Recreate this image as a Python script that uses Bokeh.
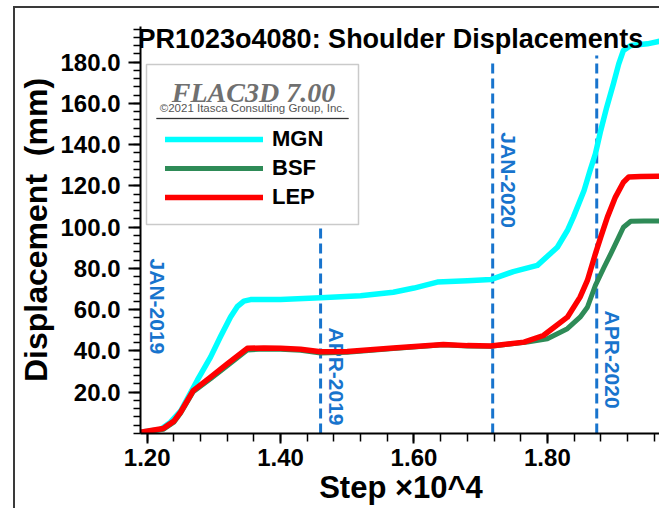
from bokeh.plotting import figure
from bokeh.models import (Range1d, FixedTicker, PrintfTickFormatter, Label, BoxAnnotation,
                          Legend, LegendItem)
from bokeh.embed import file_html
from bokeh.resources import INLINE
from bokeh.core.properties import value
import math

# ---------------- data ----------------
mgn_x = [1.190, 1.220, 1.235, 1.250, 1.275, 1.295, 1.310, 1.325, 1.335, 1.345, 1.355, 1.375,
         1.400, 1.460, 1.520, 1.569, 1.600, 1.635, 1.680, 1.715, 1.749, 1.785, 1.815, 1.830,
         1.839, 1.855, 1.864, 1.872, 1.880, 1.889, 1.899, 1.907, 1.914, 1.925, 1.950, 1.973,
         1.990]
mgn_y = [0.6, 2.0, 5.5, 10.8, 25.7, 37.0, 47.0, 56.5, 61.5, 64.2, 64.9, 65.0,
         65.0, 65.8, 66.8, 68.5, 70.5, 73.4, 74.0, 74.6, 78.5, 81.5, 90.3, 98.4,
         104.9, 117.8, 127.5, 135.6, 146.9, 158.2, 169.5, 179.2, 185.7, 188.1, 188.9, 190.5,
         191.0]

lep_x = [1.190, 1.224, 1.240, 1.250, 1.269, 1.295, 1.320, 1.350, 1.375, 1.400, 1.430, 1.460,
         1.500, 1.569, 1.644, 1.680, 1.715, 1.765, 1.794, 1.830, 1.849, 1.860, 1.872, 1.880,
         1.890, 1.902, 1.914, 1.922, 1.940, 1.973, 1.990]
lep_y = [0.6, 2.4, 6.0, 10.3, 20.8, 27.3, 33.8, 41.3, 41.5, 41.3, 40.8, 39.6,
         39.8, 41.5, 43.2, 42.6, 42.4, 44.3, 47.5, 56.4, 66.1, 74.2, 87.1, 95.2,
         104.9, 114.6, 121.8, 124.3, 124.6, 124.8, 124.9]

bsf_x = [1.190, 1.224, 1.240, 1.250, 1.269, 1.295, 1.320, 1.350, 1.375, 1.400, 1.430, 1.460,
         1.500, 1.569, 1.644, 1.680, 1.715, 1.770, 1.800, 1.830, 1.849, 1.860, 1.872, 1.885,
         1.895, 1.907, 1.914, 1.925, 1.945, 1.973, 1.990]
bsf_y = [0.3, 2.0, 5.5, 9.8, 20.3, 26.5, 32.8, 40.5, 41.0, 40.8, 40.3, 39.0,
         39.4, 41.2, 43.0, 42.4, 42.3, 44.3, 45.9, 50.8, 56.4, 61.2, 71.8, 80.6,
         87.1, 95.2, 100.0, 102.9, 103.0, 103.0, 103.0]

# date markers (dashed vertical lines)
marker_names = ["JAN-2019", "APR-2019", "JAN-2020", "APR-2020"]
marker_x = [1.191, 1.460, 1.718, 1.874]
line_x = [1.460, 1.718, 1.874]
line_top = [99.4, 181.8, 183.3]

x_major = [1.20, 1.40, 1.60, 1.80, 2.00]
x_minor = [1.16, 1.20, 1.24, 1.28, 1.32, 1.36, 1.40, 1.44, 1.48, 1.52, 1.56, 1.60, 1.64,
           1.68, 1.72, 1.76, 1.80, 1.84, 1.88, 1.92, 1.96, 2.00]
y_major = [20, 40, 60, 80, 100, 120, 140, 160, 180]
y_minor = [0, 4, 8, 12, 16, 20, 24, 28, 32, 36, 40, 44, 48, 52, 56, 60, 64, 68, 72, 76, 80,
           84, 88, 92, 96, 100, 104, 108, 112, 116, 120, 124, 128, 132, 136, 140, 144, 148,
           152, 156, 160, 164, 168, 172, 176, 180, 184, 188, 192, 196]

# ---------------- style ----------------
FONT = "Liberation Sans"
BLUE = "#1874CD"
CYAN = "#00FFFF"
GREEN = "#2E8B57"
RED = "#FF0000"

p = figure(width=646, height=502, output_backend="svg", toolbar_location=None, title=None,
           x_range=Range1d(1.19, 1.9711), y_range=Range1d(0, 197.3),
           min_border_left=125, min_border_right=0, min_border_top=18, min_border_bottom=77)
# outer frame of the original picture: thin dark lines at the left and top
p.styles = {"border-left": "2px solid #3a3a3a", "border-top": "2px solid #3a3a3a",
            "margin-left": "13px", "margin-top": "6px"}
p.outline_line_color = None
p.grid.visible = False
p.background_fill_color = "white"
p.border_fill_color = "white"

# axes
xa = p.xaxis[0]
xa.ticker = FixedTicker(ticks=x_major, minor_ticks=x_minor)
xa.formatter = PrintfTickFormatter(format="%.2f")
xa.axis_label = "Step ×10^4"
ya = p.yaxis[0]
ya.ticker = FixedTicker(ticks=y_major, minor_ticks=y_minor)
ya.formatter = PrintfTickFormatter(format="%.1f")
ya.axis_label = "Displacement \u00a0(mm)"

for ax in (xa, ya):
    ax.axis_line_width = 2
    ax.axis_line_color = "black"
    ax.major_tick_line_width = 2
    ax.minor_tick_line_width = 1.5
    ax.major_tick_line_color = "black"
    ax.minor_tick_line_color = "black"
    ax.major_tick_in = 0
    ax.minor_tick_in = 0
    ax.major_label_text_font = FONT
    ax.major_label_text_font_style = "bold"
    ax.major_label_text_font_size = "24px"
    ax.major_label_text_color = "black"
    ax.axis_label_text_font = FONT
    ax.axis_label_text_font_style = "bold"
    ax.axis_label_text_color = "black"

xa.major_tick_out = 10
xa.minor_tick_out = 8
xa.major_label_standoff = 5
xa.axis_label_standoff = 1
xa.axis_label_text_font_size = "31px"

ya.major_tick_out = 12
ya.minor_tick_out = 7
ya.major_label_standoff = 8
ya.axis_label_standoff = 3
ya.axis_label_text_font_size = "32px"

# dashed date lines
p.segment(x0=line_x, y0=[0] * len(line_x), x1=line_x, y1=line_top,
          line_color=BLUE, line_width=3, line_dash="10 5")

lab_y = [84.8, 51.4, 146.0, 59.6]
p.text(x=marker_x, y=lab_y, text=marker_names, angle=-math.pi / 2, x_offset=16,
       text_align="left", text_baseline="middle", text_color=BLUE,
       text_font=value(FONT), text_font_style="bold", text_font_size="21px")

# curves
r_mgn = p.line(mgn_x, mgn_y, line_color=CYAN, line_width=5.5, line_join="round", line_cap="round")
r_bsf = p.line(bsf_x, bsf_y, line_color=GREEN, line_width=5, line_join="round", line_cap="round")
r_lep = p.line(lep_x, lep_y, line_color=RED, line_width=5.5, line_join="round", line_cap="round")

# title (inside the top of the frame, as in the reference)
p.add_layout(Label(x=-3, y=395, x_units="screen", y_units="screen",
                   text="PR1023o4080: Shoulder Displacements", text_font=FONT,
                   text_font_style="bold", text_font_size="27px", text_color="black",
                   text_baseline="alphabetic", text_align="left"))

# legend box with FLAC3D header
p.add_layout(BoxAnnotation(left=6, right=218, bottom=209, top=369,
                           left_units="screen", right_units="screen",
                           bottom_units="screen", top_units="screen",
                           fill_color="white", fill_alpha=1.0,
                           line_color="#505050", line_width=1.5))
p.add_layout(BoxAnnotation(left=16, right=208, bottom=314.5, top=315.5,
                           left_units="screen", right_units="screen",
                           bottom_units="screen", top_units="screen",
                           fill_color="#333333", fill_alpha=1.0,
                           line_color="#333333", line_width=1))
p.add_layout(Label(x=113, y=341, x_units="screen", y_units="screen", text="FLAC3D 7.00",
                   text_font="Liberation Serif", text_font_style="bold italic",
                   text_font_size="28px", text_color="#707070",
                   text_align="center", text_baseline="alphabetic"))
p.add_layout(Label(x=112, y=326, x_units="screen", y_units="screen",
                   text="©2021 Itasca Consulting Group, Inc.",
                   text_font=FONT, text_font_size="11.5px", text_color="#555555",
                   text_align="center", text_baseline="alphabetic"))

legend = Legend(items=[LegendItem(label="MGN", renderers=[r_mgn]),
                       LegendItem(label="BSF", renderers=[r_bsf]),
                       LegendItem(label="LEP", renderers=[r_lep])],
                location=(25, 223), glyph_width=98, glyph_height=26, label_height=26,
                spacing=3, label_standoff=9, padding=0, margin=0,
                background_fill_alpha=0, border_line_alpha=0,
                label_text_font=FONT, label_text_font_style="bold",
                label_text_font_size="22px", label_text_color="black")
p.add_layout(legend)

open("out.html", "w").write(file_html(p, INLINE))
